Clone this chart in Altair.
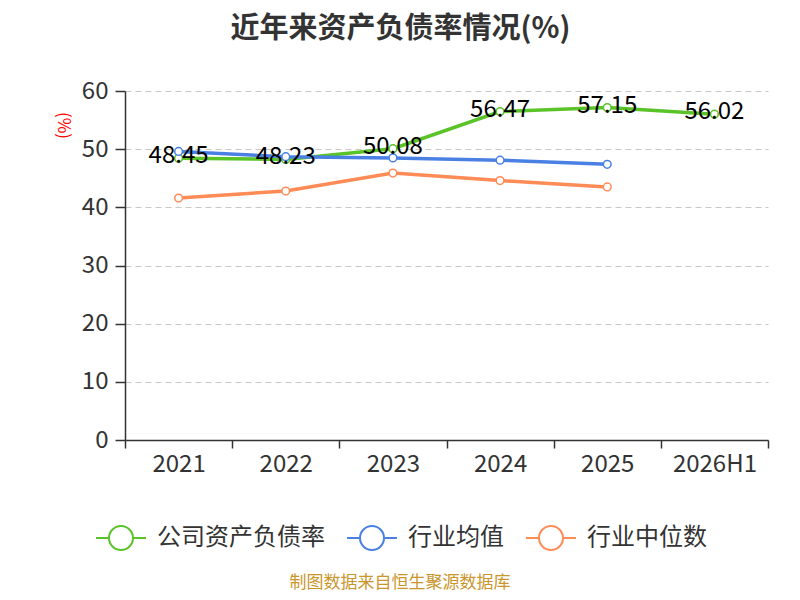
import altair as alt
import pandas as pd

years = ["2021", "2022", "2023", "2024", "2025", "2026H1"]
company = [48.45, 48.23, 50.08, 56.47, 57.15, 56.02]
industry_avg = [49.6, 48.7, 48.5, 48.1, 47.4]
industry_median = [41.6, 42.8, 45.9, 44.6, 43.5]
series_names = ["公司资产负债率", "行业均值", "行业中位数"]
colors = ["#5ac328", "#4a80e4", "#ff8b56"]

rows = []
for yr, v in zip(years, company):
    rows.append({"year": yr, "value": v, "series": series_names[0]})
for yr, v in zip(years, industry_avg):
    rows.append({"year": yr, "value": v, "series": series_names[1]})
for yr, v in zip(years, industry_median):
    rows.append({"year": yr, "value": v, "series": series_names[2]})
df = pd.DataFrame(rows)
df_company = df[df["series"] == series_names[0]]

FONT = "Noto Sans CJK SC"

x_enc = alt.X(
    "year:N", sort=years,
    scale=alt.Scale(paddingInner=0, paddingOuter=0),
    axis=alt.Axis(title=None, labelAngle=0, tickBand="extent", labelFontSize=24,
                  labelColor="#333333", domainColor="#333333", tickColor="#333333",
                  tickSize=8, labelPadding=4, grid=False, labelFont=FONT,
                  domainWidth=1.5, tickWidth=1.5),
)
y_enc = alt.Y(
    "value:Q",
    scale=alt.Scale(domain=[0, 60], nice=False),
    axis=alt.Axis(values=[0, 10, 20, 30, 40, 50, 60], title="(%)", titleColor="red",
                  titleAngle=90, titleFontSize=17, titleFontWeight="normal",
                  titleX=-63, titleY=34, titleAlign="center", titleBaseline="middle",
                  titleFont=FONT, grid=True, gridDash=[6, 4], gridColor="#c8c8c8",
                  gridWidth=1.2, labelFontSize=24, labelColor="#333333",
                  domainColor="#333333", tickColor="#333333", tickSize=10,
                  labelPadding=7, labelFont=FONT, domainWidth=1.5, tickWidth=1.5),
)

legend_path = "M-1,0L-0.48,0M0.48,0L1,0M0.48,0A0.48,0.48,0,1,1,-0.48,0A0.48,0.48,0,1,1,0.48,0"
legend = alt.Legend(
    title=None, orient="none", legendX=-30, legendY=421, direction="horizontal",
    symbolType=legend_path, symbolSize=2500, symbolStrokeWidth=2,
    symbolFillColor="white", labelFontSize=24, labelColor="#333333", labelFont=FONT,
    columnPadding=18, labelOffset=10, labelLimit=400,
)
color_enc = alt.Color("series:N", sort=series_names,
                      scale=alt.Scale(domain=series_names, range=colors), legend=legend)

base = alt.Chart(df).encode(x=x_enc, y=y_enc, color=color_enc)
lines = base.mark_line(strokeWidth=3.5)
points = base.mark_point(fill="white", fillOpacity=1, size=60, strokeWidth=1.5, opacity=1)

labels = alt.Chart(df_company).mark_text(
    fontSize=24, color="black", baseline="middle", align="center", dy=-2, font=FONT
).encode(x=alt.X("year:N", sort=years), y="value:Q", text=alt.Text("value:Q", format=".2f"))

source = alt.Chart(pd.DataFrame({"t": ["制图数据来自恒生聚源数据库"]})).mark_text(
    fontSize=17, color="#c9962c", font=FONT, align="center", baseline="middle"
).encode(x=alt.value(275), y=alt.value(492), text="t:N")

chart = alt.layer(lines, points, labels, source).properties(
    width=643, height=349,
    autosize=alt.AutoSizeParams(type="none"),
    padding={"left": 117, "top": 83, "right": 24, "bottom": 152},
    title=alt.Title("近年来资产负债率情况(%)", fontSize=29, fontWeight="bold",
                    color="#333333", anchor="middle", dx=-46, offset=35, font=FONT),
).configure_view(stroke=None)

chart.save("out.html", embed_options={"renderer": "svg", "actions": False})
